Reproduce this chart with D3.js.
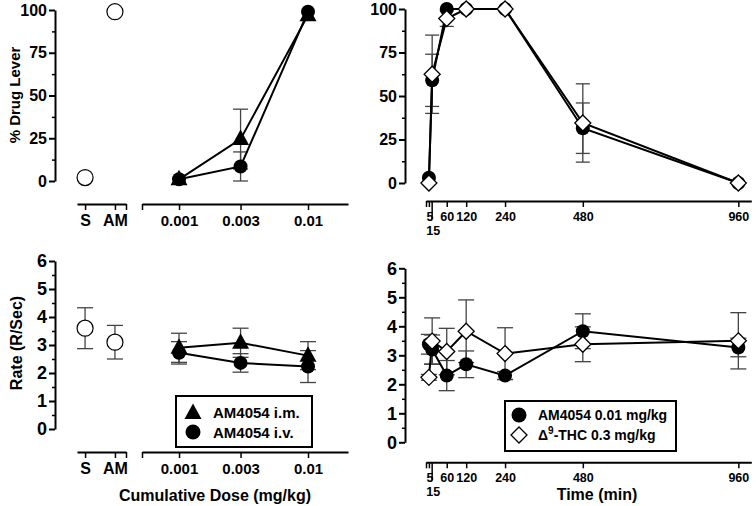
<!DOCTYPE html>
<html><head><meta charset="utf-8">
<script src="https://cdn.jsdelivr.net/npm/d3@7"></script>
<style>
body{margin:0;background:#fff;}
svg{display:block;font-family:"Liberation Sans",Arial,sans-serif;font-weight:bold;}
</style></head>
<body><svg id="c" width="756" height="506"></svg>
<script>
// ---------- data ----------
const controlCats = ["S", "AM"];
const controlDrug = [2, 99];
const controlDrugErr = [0, 0];
const controlRate = [3.6, 3.1];
const controlRateErr = [0.73, 0.6];

const doses = [0.001, 0.003, 0.01];
const doseLabels = ["0.001", "0.003", "0.01"];
const imDrug = [1, 24.5, 97];
const imDrugErr = [0, 17.5, 0];
const ivDrug = [1, 8.5, 99];
const ivDrugErr = [0, 8.5, 0];
const imRate = [2.9, 3.08, 2.62];
const imRateErr = [0.52, 0.52, 0.5];
const ivRate = [2.72, 2.36, 2.23];
const ivRateErr = [0.4, 0.33, 0.57];

const times = [5, 15, 60, 120, 240, 480, 960];
const timeTicks = [5, 60, 120, 240, 480, 960];
const amDrug = [3, 59, 100, 100, 100, 31.5, 0];
const amDrugErr = [0, 15, 0, 0, 0, 14.5, 0];
const thcDrug = [0, 62.5, 94.5, 100, 100, 34.5, 0];
const thcDrugErr = [0, 22.5, 4.5, 0, 0, 22.5, 0];
const amRate = [3.38, 3.2, 2.3, 2.69, 2.3, 3.83, 3.27];
const amRateErr = [0.34, 0.5, 0.52, 0.46, 0.14, 0.6, 0.32];
const thcRate = [2.24, 3.49, 3.13, 3.83, 3.06, 3.38, 3.5];
const thcRateErr = [0.1, 0.8, 0.8, 1.08, 0.89, 0.6, 0.97];

const drugTicks = [0, 25, 50, 75, 100];
const rateTicks = [0, 1, 2, 3, 4, 5, 6];

// ---------- helpers ----------
const svg = d3.select("#c");
const ERR = "#444";
const FONT = "Liberation Sans, Arial";

function yAxis(g, y, x0, major, minor, fs) {
  const ga = g.append("g").attr("transform", `translate(${x0},0)`)
    .call(d3.axisLeft(y).tickValues(major).tickFormat(d3.format("d")).tickSize(6).tickSizeOuter(0).tickPadding(2));
  ga.select(".domain").attr("stroke-width", 2);
  ga.selectAll(".tick line").attr("stroke-width", 2);
  ga.selectAll("text").attr("font-size", fs).attr("font-weight", "bold").attr("font-family", FONT).attr("fill", "#000");
  const gm = g.append("g").attr("transform", `translate(${x0},0)`)
    .call(d3.axisLeft(y).tickValues(minor).tickSize(3).tickSizeOuter(0).tickFormat(""));
  gm.select(".domain").remove();
  gm.selectAll(".tick line").attr("stroke-width", 1.5);
}

function xAxis(g, x, y0, vals, fmt, fs) {
  const ga = g.append("g").attr("transform", `translate(0,${y0})`)
    .call(d3.axisBottom(x).tickValues(vals).tickFormat(fmt).tickSize(6).tickSizeOuter(0).tickPadding(5));
  ga.select(".domain").attr("stroke-width", 2);
  ga.selectAll(".tick line").attr("stroke-width", 1.5);
  ga.selectAll("text").attr("font-size", fs).attr("font-weight", "bold").attr("font-family", FONT).attr("fill", "#000");
  return ga;
}

function errBars(g, xs, ys, es, x, y, cw) {
  const d = xs.map((v, i) => ({x: v, y: ys[i], e: es[i]})).filter(o => o.e > 0);
  const gg = g.append("g").attr("stroke", ERR).attr("stroke-width", 1.3).attr("fill", "none");
  gg.selectAll(".v").data(d).join("line")
    .attr("x1", o => x(o.x)).attr("x2", o => x(o.x))
    .attr("y1", o => y(o.y - o.e)).attr("y2", o => y(o.y + o.e));
  gg.selectAll(".t").data(d).join("line")
    .attr("x1", o => x(o.x) - cw / 2).attr("x2", o => x(o.x) + cw / 2)
    .attr("y1", o => y(o.y + o.e)).attr("y2", o => y(o.y + o.e));
  gg.selectAll(".b").data(d).join("line")
    .attr("x1", o => x(o.x) - cw / 2).attr("x2", o => x(o.x) + cw / 2)
    .attr("y1", o => y(o.y - o.e)).attr("y2", o => y(o.y - o.e));
}

function line(g, xs, ys, x, y) {
  g.append("path").datum(xs.map((v, i) => [x(v), y(ys[i])]))
    .attr("d", d3.line()).attr("fill", "none").attr("stroke", "#000").attr("stroke-width", 2);
}

const triPath = "M0,-9.5L8.5,6L-8.5,6Z";
const diaPath = "M0,-8L8,0L0,8L-8,0Z";

function marks(g, xs, ys, x, y, kind) {
  const d = xs.map((v, i) => [x(v), y(ys[i])]);
  if (kind === "circle") {
    g.selectAll(null).data(d).join("circle").attr("cx", p => p[0]).attr("cy", p => p[1])
      .attr("r", 7).attr("fill", "#000");
  } else if (kind === "open") {
    g.selectAll(null).data(d).join("circle").attr("cx", p => p[0]).attr("cy", p => p[1])
      .attr("r", 8).attr("fill", "#fff").attr("stroke", "#000").attr("stroke-width", 1.2);
  } else if (kind === "tri") {
    g.selectAll(null).data(d).join("path").attr("transform", p => `translate(${p[0]},${p[1]})`)
      .attr("d", triPath).attr("fill", "#000");
  } else if (kind === "dia") {
    g.selectAll(null).data(d).join("path").attr("transform", p => `translate(${p[0]},${p[1]})`)
      .attr("d", diaPath).attr("fill", "#fff").attr("stroke", "#000").attr("stroke-width", 1.3);
  }
}

// ---------- left scales ----------
const LX = 55;
const xc = d3.scaleLinear().domain([-0.27, 1.37]).range([77, 126]);
const ci = controlCats.map((c, i) => i);
const xd = d3.scaleLog().domain([Math.pow(10, -3.287), Math.pow(10, -1.69)]).range([142, 348]);

function leftXAxes(g, y0) {
  xAxis(g, xc, y0, [0, 1, 1.37], (d, i) => i < 2 ? controlCats[i] : "", 16);
  xAxis(g, xd, y0, [Math.pow(10, -3.287)].concat(doses), (d, i) => i === 0 ? "" : doseLabels[i - 1], 15);
}

// ---------- top-left ----------
{
  const g = svg.append("g");
  const y = d3.scaleLinear().domain([0, 100]).range([181, 10]);
  yAxis(g, y, LX, drugTicks, [12.5, 37.5, 62.5, 87.5], 16);
  leftXAxes(g, 204);
  marks(g, ci, controlDrug, xc, y, "open");
  errBars(g, doses, imDrug, imDrugErr, xd, y, 15);
  errBars(g, doses, ivDrug, ivDrugErr, xd, y, 15);
  line(g, doses, imDrug, xd, y);
  line(g, doses, ivDrug, xd, y);
  marks(g, doses, imDrug, xd, y, "tri");
  marks(g, doses, ivDrug, xd, y, "circle");
  g.append("text").attr("transform", "translate(20,95) rotate(-90)").attr("text-anchor", "middle")
    .attr("font-size", 15).text("% Drug Lever");
}

// ---------- bottom-left ----------
{
  const g = svg.append("g");
  const y = d3.scaleLinear().domain([0, 6]).range([429, 261]);
  yAxis(g, y, LX, rateTicks, [0.5, 1.5, 2.5, 3.5, 4.5, 5.5], 18);
  leftXAxes(g, 452);
  errBars(g, ci, controlRate, controlRateErr, xc, y, 16);
  marks(g, ci, controlRate, xc, y, "open");
  errBars(g, doses, imRate, imRateErr, xd, y, 16);
  errBars(g, doses, ivRate, ivRateErr, xd, y, 16);
  line(g, doses, imRate, xd, y);
  line(g, doses, ivRate, xd, y);
  marks(g, doses, imRate, xd, y, "tri");
  marks(g, doses, ivRate, xd, y, "circle");
  g.append("text").attr("transform", "translate(22,343) rotate(-90)").attr("text-anchor", "middle")
    .attr("font-size", 16).text("Rate (R/Sec)");
  g.append("text").attr("x", 215).attr("y", 501).attr("text-anchor", "middle")
    .attr("font-size", 16).text("Cumulative Dose (mg/kg)");
  // legend
  const lg = g.append("g");
  lg.append("rect").attr("x", 176).attr("y", 396).attr("width", 136).attr("height", 51)
    .attr("fill", "#fff").attr("stroke", "#000").attr("stroke-width", 2);
  lg.append("path").attr("transform", "translate(193,413)").attr("d", triPath).attr("fill", "#000");
  lg.append("circle").attr("cx", 193).attr("cy", 432).attr("r", 7.5).attr("fill", "#000");
  lg.append("text").attr("x", 213).attr("y", 418).attr("font-size", 15).text("AM4054 i.m.");
  lg.append("text").attr("x", 213).attr("y", 438).attr("font-size", 15).text("AM4054 i.v.");
}

// ---------- right scales ----------
const RX = 405;
const xt = d3.scaleLinear().domain([-4, 1000]).range([426, 751.3]);

function rightXAxis(g, y0) {
  const ga = xAxis(g, xt, y0, [-4].concat(timeTicks), (d, i) => i === 0 ? "" : String(timeTicks[i - 1]), 12.5);
  ga.selectAll(".tick text").filter(d => d === 5).attr("text-anchor", "end").attr("dx", 4);
  g.append("line").attr("x1", xt(15)).attr("x2", xt(15)).attr("y1", y0).attr("y2", y0 + 18)
    .attr("stroke", "#000").attr("stroke-width", 1.5);
  g.append("text").attr("x", xt(15) + 1).attr("y", y0 + 34).attr("text-anchor", "middle")
    .attr("font-size", 12.5).text("15");
}

// ---------- top-right ----------
{
  const g = svg.append("g");
  const y = d3.scaleLinear().domain([0, 100]).range([183, 9]);
  yAxis(g, y, RX, drugTicks, [12.5, 37.5, 62.5, 87.5], 16);
  rightXAxis(g, 201);
  errBars(g, times, amDrug, amDrugErr, xt, y, 14);
  errBars(g, times, thcDrug, thcDrugErr, xt, y, 14);
  line(g, times, amDrug, xt, y);
  line(g, times, thcDrug, xt, y);
  marks(g, times, amDrug, xt, y, "circle");
  marks(g, times, thcDrug, xt, y, "dia");
}

// ---------- bottom-right ----------
{
  const g = svg.append("g");
  const y = d3.scaleLinear().domain([0, 6]).range([442.3, 268.3]);
  yAxis(g, y, RX, rateTicks, [0.5, 1.5, 2.5, 3.5, 4.5, 5.5], 18);
  rightXAxis(g, 462.3);
  errBars(g, times, amRate, amRateErr, xt, y, 16);
  errBars(g, times, thcRate, thcRateErr, xt, y, 16);
  line(g, times, amRate, xt, y);
  line(g, times, thcRate, xt, y);
  marks(g, times, amRate, xt, y, "circle");
  marks(g, times, thcRate, xt, y, "dia");
  g.append("text").attr("x", 597).attr("y", 500).attr("text-anchor", "middle")
    .attr("font-size", 16).text("Time (min)");
  const lg = g.append("g");
  lg.append("rect").attr("x", 505).attr("y", 401).attr("width", 171).attr("height", 50)
    .attr("fill", "#fff").attr("stroke", "#000").attr("stroke-width", 2);
  lg.append("circle").attr("cx", 519).attr("cy", 415).attr("r", 7.5).attr("fill", "#000");
  lg.append("path").attr("transform", "translate(519,435)").attr("d", diaPath)
    .attr("fill", "#fff").attr("stroke", "#000").attr("stroke-width", 1.3);
  lg.append("text").attr("x", 538).attr("y", 420).attr("font-size", 14).text("AM4054 0.01 mg/kg");
  const t = lg.append("text").attr("x", 538).attr("y", 440).attr("font-size", 14);
  t.append("tspan").text("Δ");
  t.append("tspan").attr("dy", -6).attr("font-size", 10).text("9");
  t.append("tspan").attr("dy", 6).text("-THC 0.3 mg/kg");
}
</script></body></html>
